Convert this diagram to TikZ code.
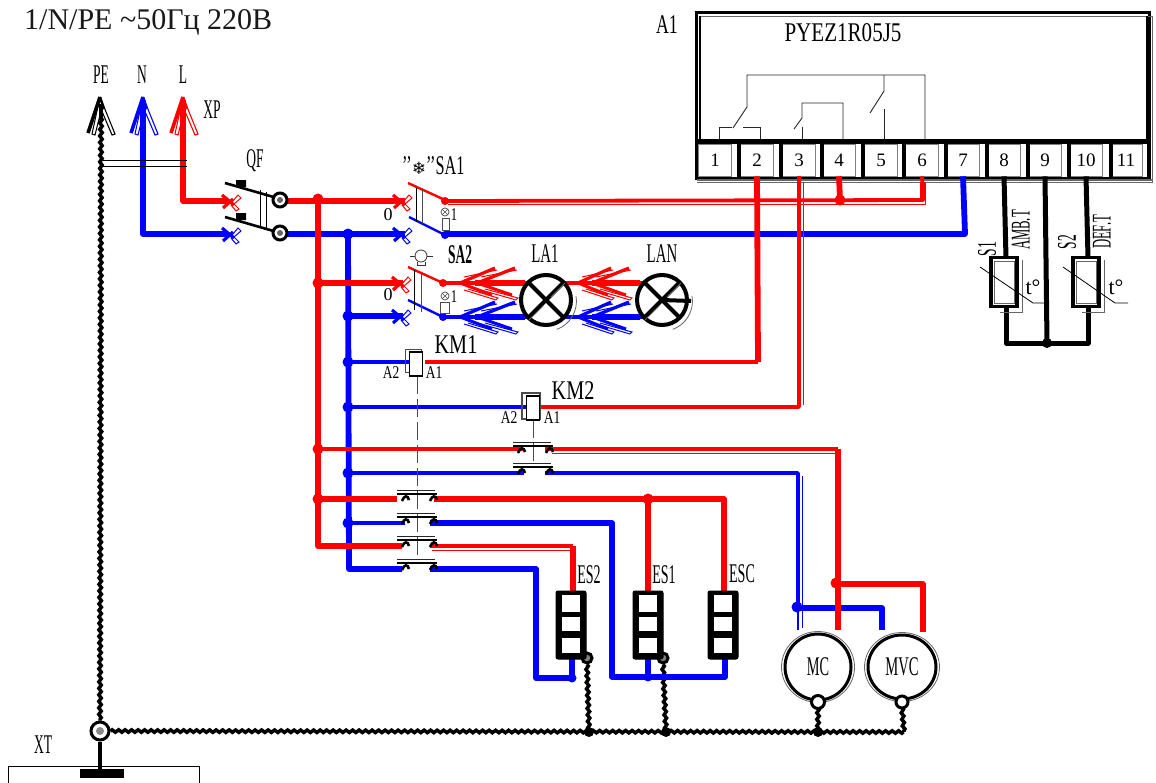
\documentclass[tikz,border=0pt]{standalone}
\usepackage{graphicx}
\usepackage{fontspec}
\setmainfont{Liberation Serif}
\newfontfamily\symfont{DejaVu Sans}
\usetikzlibrary{decorations.pathmorphing,calc,shapes.geometric}
\newcommand{\nar}[2][.55]{\scalebox{#1}[1]{#2}}
\tikzset{
 lab/.style={inner sep=0,font=\fontsize{27}{27}\selectfont,text=black},
 small/.style={inner sep=0,font=\fontsize{18}{18}\selectfont,text=black},
 wr/.style={red,line width=5.8,line join=round},
 wrt/.style={red,line width=3.8,line join=round},
 wb/.style={blue,line width=5.8,line join=round},
 wbt/.style={blue,line width=3.8,line join=round},
 shade/.style={line width=.8,line join=round},
 earth/.style={black,line width=3.5,decorate,decoration={zigzag,segment length=6.5,amplitude=1.2}},
 wk/.style={black,line width=5,line join=round},
 thinl/.style={black!85,line width=.9},
 jr/.style={circle,fill=red,inner sep=0,minimum size=11},
 jb/.style={circle,fill=blue,inner sep=0,minimum size=11},
 jk/.style={circle,fill=black,inner sep=0,minimum size=10},
 term/.style={rectangle,fill=white,draw=black!50,line width=.6,minimum width=33,minimum height=32,inner sep=0,font=\fontsize{19}{19}\selectfont,text=black},
 lug/.style={circle,draw=black,line width=3,fill=white,inner sep=0,minimum size=#1},
 coil/.style={rectangle,draw=black,line width=1.1,fill=white,inner sep=0,minimum width=13,minimum height=24},
 lamp/.style={circle,draw=black,line width=4,fill=white,inner sep=0,minimum size=50},
 motor/.style={ellipse,draw=black,line width=3,fill=white,inner sep=0},
 sens/.style={rectangle,draw=black,line width=3.4,fill=white,inner sep=0,minimum width=26,minimum height=49},
 heat/.style={rectangle,rounded corners=2,fill=black,draw=black,line width=1,inner sep=0,minimum width=30,minimum height=68},
 cell/.style={rectangle,fill=white,inner sep=0,minimum width=18}
}
\newcommand{\xm}[3]{% cross mark
 \draw[#3,line width=3.2] (#1-7,#2-6) -- (#1+5,#2+4);
 \draw[#3,line width=3.2] (#1-6,#2+7) -- (#1+4,#2-2);
 \draw[#3,line width=1] (#1+3,#2+1) -- (#1+9,#2-6) -- (#1+12,#2-3) -- (#1+5,#2+3);
 \draw[#3,line width=1] (#1+4,#2+2) -- (#1+10,#2+8) -- (#1+7,#2+10) -- (#1+2,#2+4);
}
\newcommand{\chv}[4]{% double chevron wing pair, #1 tip x, #2 y, #3 length, #4 colour
 \draw[#4,line width=3.2] (#1,#2) -- (#1+#3,#2-15);
 \draw[#4,line width=1] (#1+4,#2-6) -- (#1+#3+2,#2-13);
 \draw[#4,line width=3] (#1,#2) -- (#1+#3-3,#2+12);
 \draw[#4,line width=1] (#1+8,#2+6) -- (#1+#3+3,#2+15) -- (#1+#3+1,#2+17) -- (#1+4,#2+7);
}
\newcommand{\tip}[3]{% arrow head on XP
 \draw[#3,line width=3.6] (#1,#2) -- (#1-12,#2+36);
 \draw[#3,line width=1] (#1,#2) -- (#1-8,#2+37) -- (#1-5,#2+38) -- (#1+1,#2+14);
 \draw[#3,line width=1.1] (#1,#2) -- (#1+15,#2+37) -- (#1+12,#2+38) -- (#1+1,#2+12);
 \draw[#3,line width=2.4] (#1,#2) -- (#1+4,#2+12);
}
\newcommand{\ctc}[2]{% contact pair at centre x, y
 \draw[black!85,line width=1] (#1-20,#2-3) -- (#1+18,#2-3);
 \draw[black,line width=2.2] (#1-20,#2+1) -- (#1+20,#2+1);
 \draw[black,line width=2.6] (#1-15,#2+8) .. controls (#1-13,#2+2) and (#1-9,#2+2) .. (#1-8,#2+7);
 \draw[black,line width=2.6] (#1+13,#2+8) .. controls (#1+15,#2+2) and (#1+19,#2+2) .. (#1+20,#2+7);
}
\begin{document}
\begin{tikzpicture}[x=1pt,y=-1pt]
\useasboundingbox (0,0) rectangle (1156,782);
\fill[white] (0,0) rectangle (1156,782);

% ---- controller A1
\draw[black,line width=3] (696,12) rectangle (1149,178);
\draw[black!60,line width=.7] (699,16) -- (1152,16) -- (1152,182) -- (697,182);
\draw[black,line width=1.2] (700,16) -- (700,140) (1147,16) -- (1147,140);
\foreach \n/\x in {1/715,2/757,3/799,4/839,5/881,6/922,7/963,8/1004,9/1045,10/1086,11/1126}
  \node[term] (t\n) at (\x,160) {\n};
\draw[black,line width=5] (697,141) -- (1151,141);
\foreach \x in {739,781,822,863,904,946,987,1028,1069,1111}
  \draw[black,line width=3.4] (\x,141) -- (\x,181);
\draw[black!60,line width=1.2] (697,180) -- (1152,180);
\draw[black,line width=2] (697,141) -- (697,178) (1148,141) -- (1148,178);
\draw[thinl] (719,139) -- (719,127) -- (732,127) (743,127) -- (760,127) -- (760,139);
\draw[thinl] (733,128) -- (747,107) -- (747,75) -- (925,75) -- (925,139);
\draw[thinl] (794,129) -- (802,118) -- (802,103) -- (843,103) -- (843,139);
\draw[thinl] (802,127) -- (802,139);
\draw[thinl] (884,75) -- (884,91) -- (870,113);
\draw[thinl] (884,109) -- (884,139);
\node[lab] (a1l) at (667,25) {\nar[.66]{A1}};
\node[lab] (a1t) at (843,33) {\nar[.78]{PYEZ1R05J5}};

% ---- named points
\foreach \n/\x/\y in {
 pe/101/118, n/143/100, l/183/100, qr/228/201, qb/228/234,
 sr/405/201, sb/405/234, s2r/403/283, s2b/403/316,
 sa1r/445/201, sa1b/445/234, sa2r/443/283, sa2b/443/317,
 tjr/318/199, tjb/348/234, tbr/318/546, tbb/349/569,
 jcr/318/449, jcb/348/473, jgr/318/499, jgb/348/523, j2r/318/283, j2b/348/316,
 jkm1/348/362, jkm2/348/407,
 cr1/523/449, cb1/524/473, cr1o/545/449, cb1o/545/473,
 g1l/397/499, g1r/434/499, g2l/405/523, g2r/430/523, g3l/402/546, g3r/430/546, g4l/402/569, g4r/430/569,
 es1r/648/499, escr/724/499, mr/838/449, mvr/923/584, mjr/838/584, mb/798/473, mjb/798/608, mvb/882/608,
 blo1/612/677, blo2/536/569, blo3/536/678, jh1/648/677, jh2/572/678,
 eg/100/732, ee1/589/732, ee2/666/732, ee3/818/732, ee4/904/732,
 bot/1047/343, c4/840/200, c6/923/200, c7/965/234, c2/758/362, c3/799/407
}{\coordinate (\n) at (\x,\y);}

% ---- earth conductors
\node[lug=18] (xt) at (100,731) {};
\fill[black!45] (100,731) circle (4);
\node[lug=10,fill=black!50] (ples2) at (587,658) {};
\node[lug=10,fill=black!50] (ples1) at (663,658) {};
\draw[earth] (pe) -- (xt.north);
\draw[earth] (xt.east) -- (ee4);
\draw[earth] (ples2.south) -- (ee1);
\draw[earth] (ples1.south) -- (ee2);

% ---- blue wiring
\draw[wb] (n) |- (qb);
\draw[wb] (287,234) -- (sb);
\draw[wb] (sa1b) -- (c7) -- (t7.south);
\draw[wb] (tjb) -- (tbb) -- (g4l);
\draw[wb] (j2b) -- (s2b);
\draw[wbt] (sa2b) -- (680,317);
\draw[wb] (475,317) -- (525,317) (592,317) -- (640,317);
\draw[wbt] (jkm1) -- (410,362);
\draw[wbt] (jkm2) -- (528,407);
\draw[wbt] (jcb) -- (cb1);
\draw[wbt] (cb1o) -- (mb) -- (mjb);
\draw[blue,shade] (802,476) -- (802,606);
\draw[wb] (mjb) -- (mvb) -- (882,630);
\draw[blue,line width=2.2] (mjb) -- (798,630);
\draw[blue,shade] (802,608) -- (802,628);
\draw[wbt] (jgb) -- (g2l);
\draw[wb] (g2r) -- (612,523) -- (blo1) -- (725,677) -- (725,655);
\draw[wb] (jh1) -- (648,655);
\draw[wb] (g4r) -- (blo2) -- (blo3) -- (jh2) -- (572,655);
\node[jb] (dj1) at (tjb) {};
\node[jb] (dj2) at (j2b) {};
\node[jb] (dj3) at (jkm1) {};
\node[jb] (dj4) at (jkm2) {};
\node[jb] (dj5) at (jcb) {};
\node[jb] (dj6) at (jgb) {};
\node[jb] (dj7) at (797,607) {};
\node[jb,minimum size=9] (dj8) at (jh1) {};
\node[jb,minimum size=9] (dj9) at (jh2) {};

% ---- red wiring
\draw[wr] (l) |- (qr);
\draw[wr] (287,201) -- (sr);
\draw[wrt] (sa1r) -- (c6) -- (t6.south);
\draw[red,shade] (448,204) -- (925,204) -- (925,196);
\draw[wr] (c6) -- (923,182);
\draw[wr] (c4) -- (t4.south);
\draw[wr] (tjr) -- (tbr) -- (g3l);
\draw[wr] (j2r) -- (s2r);
\draw[wrt] (sa2r) -- (680,283);
\draw[wr] (475,283) -- (525,283) (592,283) -- (640,283);
\draw[wr] (c2) -- (t2.south);
\draw[wrt] (425,362) -- (c2);
\draw[wrt] (541,407) -- (c3) -- (t3.south);
\draw[red,shade] (803,182) -- (803,405);
\draw[wrt] (jcr) -- (cr1);
\draw[wrt] (cr1o) -- (mr);
\draw[red,shade] (552,453) -- (836,453);
\draw[wr] (mr) -- (838,630);
\draw[wr] (mjr) -- (mvr) -- (923,632);
\draw[wr] (jgr) -- (g1l);
\draw[wr] (g1r) -- (escr) -- (724,592);
\draw[wr] (es1r) -- (648,592);
\draw[wrt] (g3r) -- (573,546);
\draw[wr] (573,546) -- (573,592);
\draw[red,shade] (432,550) -- (570,550);
\node[jr] (dr1) at (tjr) {};
\node[jr] (dr2) at (j2r) {};
\node[jr] (dr3) at (jcr) {};
\node[jr] (dr4) at (jgr) {};
\node[jr] (dr5) at (c4) {};
\node[jr] (dr6) at (es1r) {};
\node[jr] (dr7) at (836,583) {};

% ---- sensors
\draw[wk] (t8.south) -- (1006,258);
\draw[wk] (t10.south) -- (1088,258);
\draw[wk] (1006,307) -- (1006,343) -- (1088,343) -- (1088,307);
\draw[wk] (t9.south) -- (bot);
\node[jk] (dj) at (bot) {};
\draw[black!60,line width=.7] (1000,312) -- (1022,312) -- (1022,260);
\draw[black!60,line width=.7] (1082,312) -- (1104,312) -- (1104,260);
\node[sens] (s1) at (1004,282) {};
\node[sens] (s2) at (1086,282) {};
\draw[black!60,line width=.8] (994,261) rectangle (1014,303) (1076,261) rectangle (1096,303);
\draw[black,line width=.8] (980,267) -- (1033,303) -- (1044,303);
\draw[black,line width=.8] (1063,267) -- (1115,303) -- (1128,303);
\node[small,font=\fontsize{22}{22}\selectfont] (tt1) at (1033,287) {t°};
\node[small,font=\fontsize{22}{22}\selectfont] (tt2) at (1116,287) {t°};
\node[lab,rotate=90] (s1l) at (987,249) {\nar[.5]{S1}};
\node[lab,rotate=90] (s2l) at (1067,242) {\nar[.5]{S2}};
\node[lab,rotate=90] (amb) at (1021,230) {\nar[.47]{AMB.T}};
\node[lab,rotate=90] (def) at (1102,232) {\nar[.47]{DEF.T}};

% ---- XP
\tip{100}{97}{black}
\tip{143}{97}{blue}
\tip{183}{97}{red}
\draw[black,line width=4] (101,104) -- (101,120);
\draw[black,line width=.8] (103,160) -- (187,160) (103,166) -- (187,166);
\node[lab] (pel) at (101,75) {\nar[.5]{PE}};
\node[lab] (nl) at (142,75) {\nar[.5]{N}};
\node[lab] (ll) at (183,75) {\nar[.5]{L}};
\node[lab] (xpl) at (212,110) {\nar[.5]{XP}};

% ---- QF
\xm{229}{201}{red}
\xm{229}{234}{blue}
\draw[black,line width=2.6] (225,183) -- (277,198) (225,217) -- (277,232);
\fill[black] (236,180) rectangle (246,187) (236,213) rectangle (246,220);
\draw[black,line width=.8] (260,190) -- (260,226) (266,192) -- (266,228);
\node[lug=14] (qf1) at (280,200) {};
\node[lug=14] (qf2) at (280,233) {};
\fill[black!60] (280,200) circle (3) (280,233) circle (3);
\node[lab] (qfl) at (255,161) {\nar[.5]{QF}};

% ---- SA1
\xm{400}{201}{red}
\xm{400}{234}{blue}
\draw[red,line width=2.4] (408,183) -- (445,200);
\draw[blue,line width=2.4] (409,217) -- (445,235);
\draw[black,line width=.9] (416,188) -- (416,222);
\draw[black!70,line width=.8] (422,190) -- (422,224);
\fill[red] (445,201) circle (4);
\fill[blue] (445,235) circle (4);
\node[circle,draw=black!70,line width=.7,inner sep=0,minimum size=8] (sl1) at (445,212) {};
\draw[black!70,line width=.6] (442,209) -- (448,215) (448,209) -- (442,215);
\draw[black!70,line width=.7] (442,218) rectangle (449,230);
\node[small] (s11) at (454,215) {\nar[.7]{1}};
\node[small] (s10) at (388,215) {0};
\node[lab,anchor=west] (sa1l) at (402,166) {\nar[.6]{’’}{\symfont\fontsize{17}{17}\selectfont ❄}\nar[.6]{’’SA1}};

% ---- SA2
\xm{399}{283}{red}
\xm{399}{316}{blue}
\draw[red,line width=2.4] (408,267) -- (443,283);
\draw[blue,line width=2.4] (408,300) -- (443,317);
\draw[black,line width=.9] (414,270) -- (414,310);
\draw[black!70,line width=.8] (421,272) -- (421,312);
\fill[red] (443,283) circle (4);
\fill[blue] (443,317) circle (4);
\node[circle,draw=black!70,line width=.7,inner sep=0,minimum size=8] (sl2) at (445,296) {};
\draw[black!70,line width=.6] (442,293) -- (448,299) (448,293) -- (442,299);
\draw[black!70,line width=.7] (440,302) rectangle (449,313);
\node[small] (s21) at (454,297) {\nar[.7]{1}};
\node[small] (s20) at (388,295) {0};
\node[lab,font=\bfseries\fontsize{27}{27}\selectfont] (sa2l) at (460,255) {\nar[.5]{SA2}};
\node[circle,draw=black!80,line width=.8,inner sep=0,minimum size=12] (bulb) at (421,256) {};
\draw[black!80,line width=.8] (410,256) -- (415,256) (427,256) -- (433,256);
\draw[black!80,line width=.8] (417,262) -- (417,265) -- (425,265) -- (425,262);

% ---- lamps
\chv{460}{283}{35}{red}
\chv{477}{283}{38}{red}
\chv{460}{317}{35}{blue}
\chv{477}{317}{38}{blue}
\chv{578}{283}{33}{red}
\chv{592}{283}{37}{red}
\chv{578}{317}{33}{blue}
\chv{592}{317}{37}{blue}
\node[lamp] (lampa) at (546,300) {};
\node[lamp] (lampn) at (662,300) {};
\foreach \c in {lampa,lampn}{
 \draw[black,line width=4] ($(\c)+(-17,-17)$) -- ($(\c)+(17,17)$);
 \draw[black,line width=4] ($(\c)+(-17,17)$) -- ($(\c)+(17,-17)$);
 \draw[black!60,line width=.8] ($(\c)+(5,-3)$) -- ($(\c)+(19,-17)$);
 \draw[black!60,line width=.8] ($(\c)+(-3,6)$) -- ($(\c)+(-17,20)$);
 \draw[black!60,line width=.8] ($(\c)+(30,-4)$) arc (-10:70:30);
}
\draw[black,line width=4] (lampn.center) -- (691,301);
\node[lab] (la1l) at (545,254) {\nar[.55]{LA1}};
\node[lab] (lanl) at (662,254) {\nar[.55]{LAN}};

% ---- coils
\draw[black!70,dash pattern=on 18pt off 5pt,line width=.9] (417,376) -- (417,560);
\draw[black!70,dash pattern=on 18pt off 5pt,line width=.9] (533,420) -- (533,466);
\draw[black!70,line width=.9] (405,349) rectangle (421,372);
\node[coil] (km1) at (416,364) {};
\draw[black!70,line width=1.2] (522,393) rectangle (540,419);
\node[coil] (km2) at (533,408) {};
\node[lab] (km1l) at (456,345) {\nar[.75]{KM1}};
\node[lab] (km2l) at (573,391) {\nar[.75]{KM2}};
\node[small] (a21) at (391,373) {\nar[.75]{A2}};
\node[small] (a11) at (434,373) {\nar[.75]{A1}};
\node[small] (a22) at (509,418) {\nar[.75]{A2}};
\node[small] (a12) at (552,418) {\nar[.75]{A1}};

% ---- contacts
\ctc{533}{445}
\ctc{533}{466}
\ctc{417}{493}
\ctc{417}{516}
\ctc{417}{539}
\ctc{417}{562}

% ---- heaters
\foreach \n/\x/\t in {hes2/571/ES2,hes1/648/ES1,hesc/723/ESC}{
 \node[heat] (\n) at (\x,625) {};
 \node[cell,minimum height=17] at (\x,603) {};
 \node[cell,minimum height=14] at (\x,624) {};
 \node[cell,minimum height=15] at (\x,645) {};
}
\node[lab] (es2l) at (589,575) {\nar[.52]{ES2}};
\node[lab] (es1l) at (664,575) {\nar[.52]{ES1}};
\node[lab] (escl) at (742,574) {\nar[.52]{ESC}};

% ---- motors
\node[motor,minimum width=66,minimum height=66] (mc) at (818,667) {};
\node[motor,minimum width=68,minimum height=64] (mvc) at (902,667) {};
\draw[black!60,line width=.8] (818,667) ellipse (36.5 and 35.5) (902,667) ellipse (37.5 and 34.5);
\node[lab] at (mc) {\nar[.53]{MC}};
\node[lab] at (mvc) {\nar[.54]{MVC}};
\draw[earth] (818,708) -- (ee3);
\draw[earth] (902,708) -- (ee4);
\node[lug=13] (lmc) at (818,702) {};
\node[lug=12] (lmv) at (902,702) {};
\foreach \n in {ee1,ee2,ee3}{\node[jk] at (\n) {};}

% ---- XT
\draw[black,line width=.8] (8,790) -- (8,766) -- (199,766) -- (199,790);
\draw[black,line width=3.8] (xt.south) -- (100,770);
\fill[black] (80,769) rectangle (124,778);
\node[lab] (xtl) at (43,745) {\nar[.5]{XT}};
\node[lab,font=\fontsize{30}{30}\selectfont,anchor=base west,text=black!90] (ttl) at (24,29) {1/N/PE \textasciitilde 50Гц 220В};
\end{tikzpicture}
\end{document}
